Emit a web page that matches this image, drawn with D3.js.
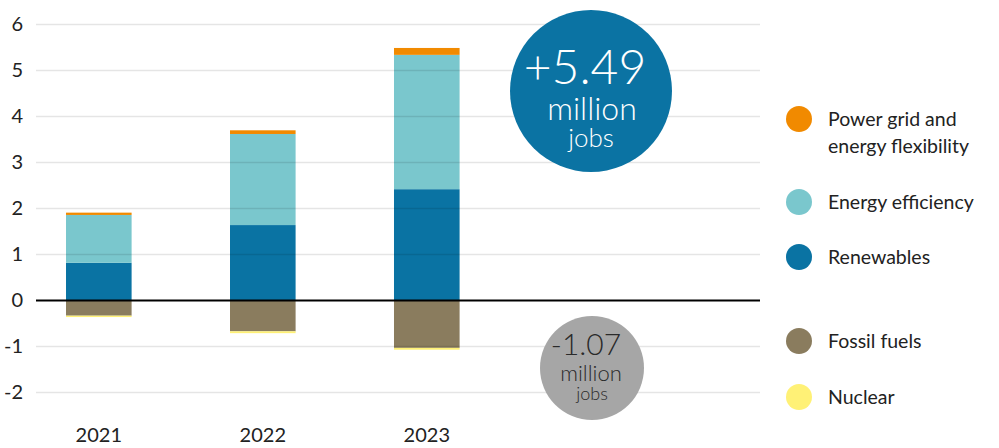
<!DOCTYPE html>
<html><head><meta charset="utf-8">
<script src="https://cdn.jsdelivr.net/npm/d3@7"></script>
<style>body{margin:0;background:#fff;} text{font-family:Lato,"Open Sans",sans-serif;}</style>
</head><body><svg id="c" width="999" height="448"></svg>
<script>
const years = ["2021","2022","2023"];
const renewables = [0.82, 1.64, 2.42];
const efficiency = [1.04, 1.98, 2.92];
const powerGrid = [0.05, 0.08, 0.15];
const fossil = [-0.33, -0.67, -1.03];
const nuclear = [-0.03, -0.04, -0.04];
const yTicks = [-2,-1,0,1,2,3,4,5,6];
const legendLabels = [["Power grid and","energy flexibility"],["Energy efficiency"],["Renewables"],["Fossil fuels"],["Nuclear"]];
const colors = {grid:"#F18A00", eff:"#7AC7CD", ren:"#0A73A3", fos:"#8A7C5E", nuc:"#FFF176"};

const svg = d3.select("#c");
const y = d3.scaleLinear().domain([-2,6]).range([392.5,24.5]);
const x = d3.scaleBand().domain(years).range([36,489.6]).paddingInner(0.6).paddingOuter(0.183);

const posKeys = [["ren",renewables],["eff",efficiency],["grid",powerGrid]];
const negKeys = [["fos",fossil],["nuc",nuclear]];
const rects = [];
years.forEach((yr,i)=>{
  let acc=0;
  posKeys.forEach(([k,arr])=>{rects.push({yr,k,y0:acc,y1:acc+arr[i]}); acc+=arr[i];});
  acc=0;
  negKeys.forEach(([k,arr])=>{rects.push({yr,k,y0:acc,y1:acc+arr[i]}); acc+=arr[i];});
});
svg.append("g").selectAll("rect").data(rects).join("rect")
  .attr("x",d=>x(d.yr)).attr("width",x.bandwidth())
  .attr("y",d=>y(Math.max(d.y0,d.y1))).attr("height",d=>Math.abs(y(d.y0)-y(d.y1)))
  .attr("fill",d=>colors[d.k]);

const yAxis = d3.axisLeft(y).tickValues(yTicks).tickSize(0).tickPadding(14).tickFormat(d=>String(d));
svg.append("g").selectAll("line").data(yTicks.filter(t=>t!==0)).join("line")
  .attr("x1",36).attr("x2",760).attr("y1",d=>y(d)).attr("y2",d=>y(d))
  .attr("stroke","rgba(0,0,0,0.1)").attr("stroke-width",1.5);
svg.append("line").attr("x1",36).attr("x2",760).attr("y1",y(0)).attr("y2",y(0)).attr("stroke","#000").attr("stroke-width",2);

const ga = svg.append("g").attr("transform","translate(36,0)").call(yAxis);
ga.select(".domain").remove();
ga.selectAll("text").attr("font-size",20).attr("fill","#222").style("font-family","Lato,sans-serif").attr("x",-13);

const xa = svg.append("g").attr("transform","translate(0,425)").call(d3.axisBottom(x).tickSize(0).tickPadding(3));
xa.select(".domain").remove();
xa.selectAll("text").attr("font-size",20).attr("fill","#222").style("font-family","Lato,sans-serif");

svg.append("circle").attr("cx",591).attr("cy",91).attr("r",81).attr("fill","#0B73A3");
const t1 = svg.append("g").attr("fill","#fff").attr("text-anchor","middle").style("font-weight",300);
t1.append("text").attr("x",585).attr("y",84).attr("font-size",48).text("+5.49");
t1.append("text").attr("x",592).attr("y",120).attr("font-size",32).text("million");
t1.append("text").attr("x",591).attr("y",147).attr("font-size",26).text("jobs");

svg.append("circle").attr("cx",592).attr("cy",368).attr("r",52).attr("fill","#A6A6A6");
const t2 = svg.append("g").attr("fill","#2a2a2a").attr("text-anchor","middle").style("font-weight",300);
t2.append("text").attr("x",586).attr("y",355).attr("font-size",30).text("-1.07");
t2.append("text").attr("x",591).attr("y",381).attr("font-size",22).text("million");
t2.append("text").attr("x",592).attr("y",400).attr("font-size",18).text("jobs");

const legY = [119, 202, 257, 341, 397];
const legC = [colors.grid, colors.eff, colors.ren, colors.fos, colors.nuc];
const lg = svg.append("g");
legendLabels.forEach((lines,i)=>{
  lg.append("circle").attr("cx",799).attr("cy",legY[i]).attr("r",13).attr("fill",legC[i]);
  lines.forEach((ln,j)=>{
    lg.append("text").attr("x",828).attr("y",legY[i]+j*27).attr("dy","0.35em")
      .attr("font-size",19.5).attr("fill","#222").text(ln);
  });
});
</script></body></html>
